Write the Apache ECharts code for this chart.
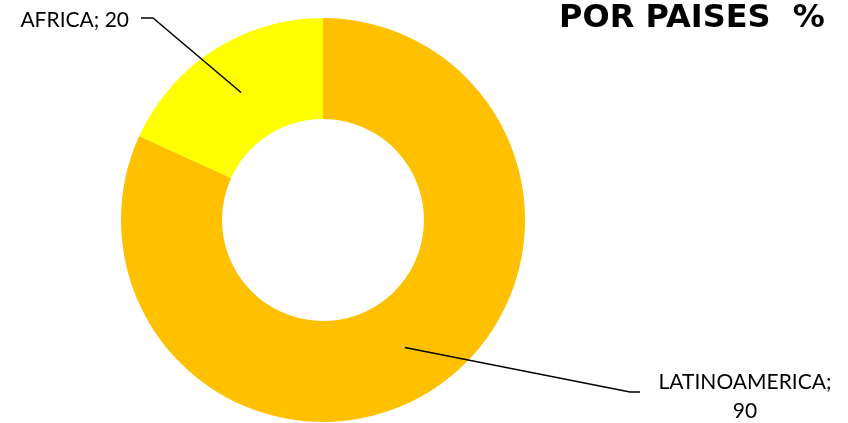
<!DOCTYPE html>
<html lang="es">
<head>
    <meta charset="UTF-8">
    <title>POR PAISES %</title>
    <script src="https://cdn.jsdelivr.net/npm/echarts@6/dist/echarts.min.js"></script>
    <style>
        html, body { margin: 0; padding: 0; background: #fff; }
        #main { width: 848px; height: 423px; }
    </style>
</head>
<body>
    <div id="main"></div>
    <script>
        var regiones = ['LATINOAMERICA', 'AFRICA'];
        var valores = [90, 20];
        var colores = ['#FFC000', '#FFFF00'];

        // where each label sits and where its leader bends
        var etiquetas = [
            { x: 745, y: 397, align: 'center', bend: [630, 392], end: [640, 392] },
            { x: 129, y: 20, align: 'right', bend: [153, 18], end: [141, 18] }
        ];

        var cx = 323, cy = 220, rIn = 101, rOut = 202;

        var myChart = echarts.init(document.getElementById('main'));

        var datos = regiones.map(function (n, i) {
            return { name: n, value: valores[i], itemStyle: { color: colores[i] } };
        });

        var option = {
            animation: false,
            title: {
                text: 'POR PAISES  %',
                left: 554,
                top: -2,
                textStyle: {
                    fontFamily: 'DejaVu Sans',
                    fontWeight: 'bold',
                    fontSize: 32,
                    color: '#000'
                }
            },
            series: [{
                type: 'pie',
                center: [cx, cy],
                radius: [rIn, rOut],
                startAngle: 90,
                clockwise: true,
                silent: true,
                data: datos,
                label: { show: false },
                labelLine: { show: false }
            }, {
                // transparent copy on top, only for labels and leaders
                type: 'pie',
                z: 5,
                center: [cx, cy],
                radius: [rIn, rOut],
                startAngle: 90,
                clockwise: true,
                silent: true,
                data: regiones.map(function (n, i) {
                    return { name: n, value: valores[i] };
                }),
                itemStyle: { color: 'rgba(0,0,0,0)' },
                label: {
                    show: true,
                    position: 'outside',
                    fontFamily: 'Lato',
                    fontSize: 21,
                    color: '#000',
                    lineHeight: 29,
                    formatter: function (p) {
                        return p.dataIndex === 0 ? p.name + ';\n' + p.value : p.name + '; ' + p.value;
                    }
                },
                labelLine: {
                    show: true,
                    lineStyle: { color: '#000', width: 1.5 }
                },
                labelLayout: function (p) {
                    var e = etiquetas[p.dataIndex];
                    var s = p.labelLinePoints[0];
                    var k = (rIn + rOut) / 2 / rOut;
                    var start = [cx + (s[0] - cx) * k, cy + (s[1] - cy) * k];
                    return {
                        x: e.x,
                        y: e.y,
                        align: e.align,
                        verticalAlign: 'middle',
                        labelLinePoints: [start, e.bend, e.end]
                    };
                }
            }]
        };

        myChart.setOption(option);
    </script>
</body>
</html>
